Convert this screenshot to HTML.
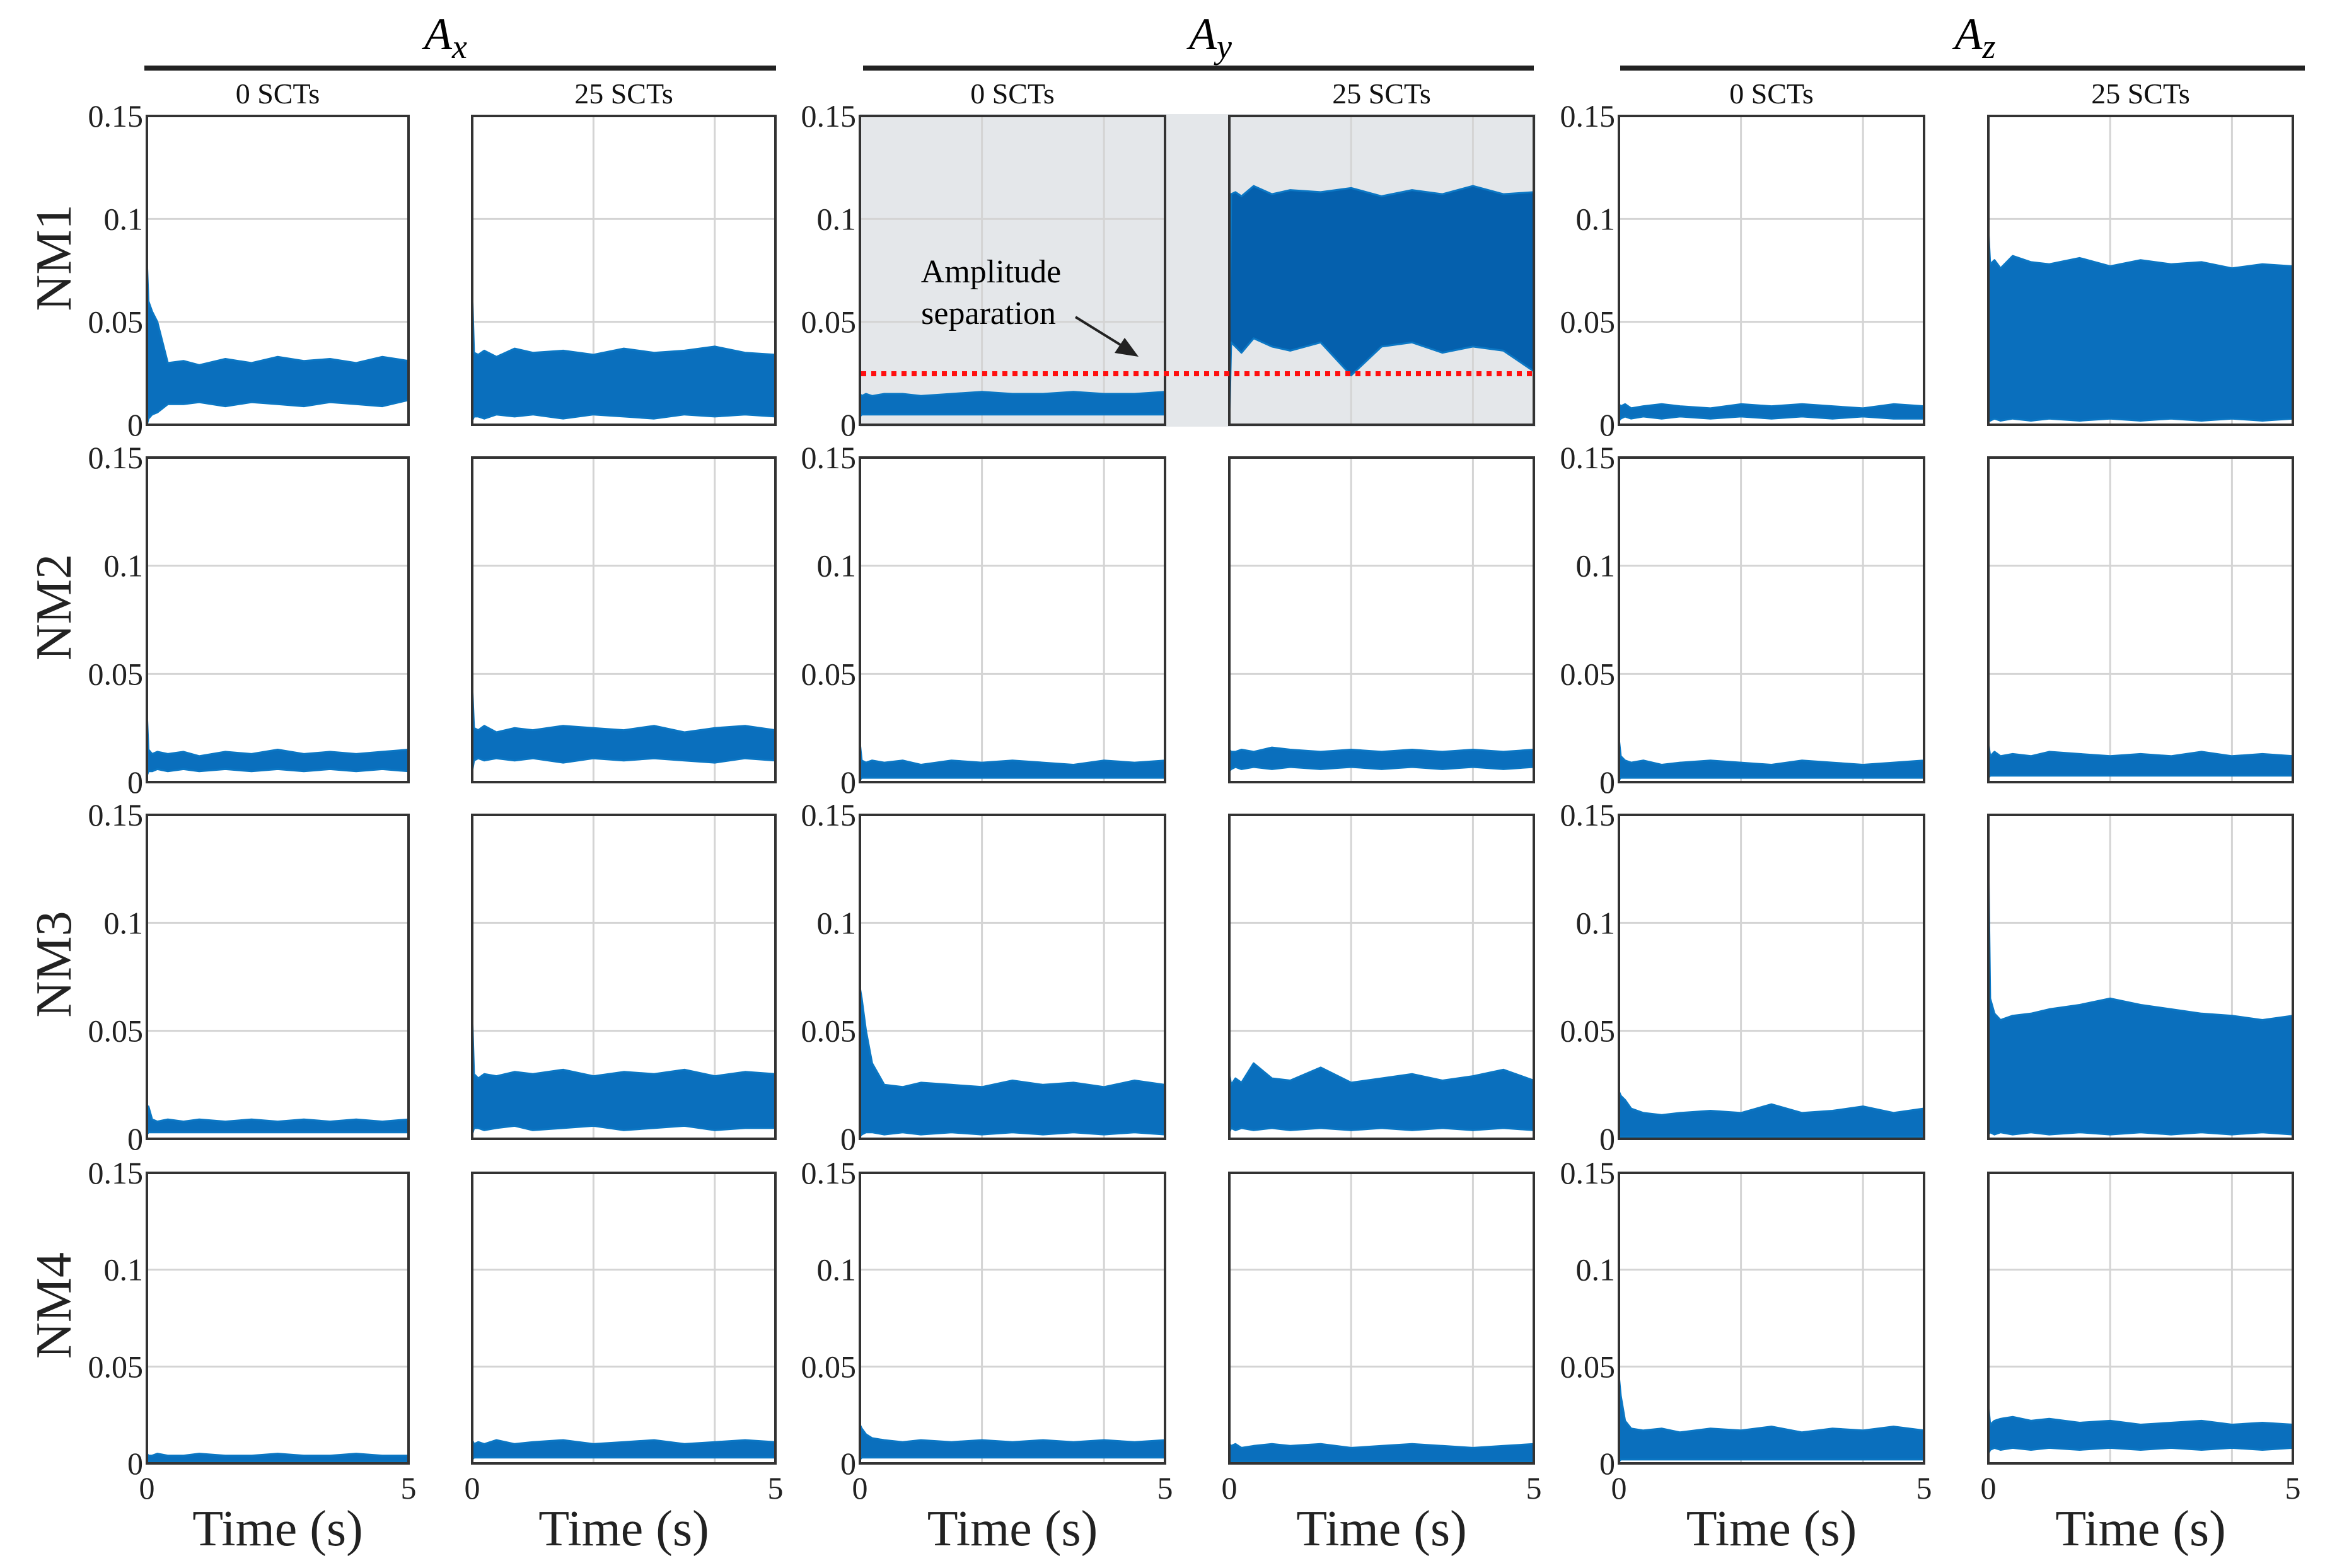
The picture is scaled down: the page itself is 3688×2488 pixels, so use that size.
<!DOCTYPE html>
<html><head><meta charset="utf-8"><style>
html,body{margin:0;padding:0;background:#fff;}
svg{display:block;font-family:"Liberation Serif",serif;}
</style></head><body>
<svg id="fig" width="3688" height="2488" viewBox="0 0 3688 2488" xmlns="http://www.w3.org/2000/svg">
<g id="layer-bg">
<rect x="0" y="0" width="3688" height="2488" fill="#fff"/>
<rect x="1364" y="181" width="1072" height="496" fill="#e4e7ea"/>
</g>
<g id="layer-panels"></g>
<g id="layer-anno">
<text x="707" y="78" font-size="72" font-style="italic" text-anchor="middle">A<tspan font-size="54" dy="14">x</tspan></text>
<rect x="229" y="104" width="1002" height="8" fill="#222"/>
<text x="1920" y="78" font-size="72" font-style="italic" text-anchor="middle">A<tspan font-size="54" dy="14">y</tspan></text>
<rect x="1369" y="104" width="1064" height="8" fill="#222"/>
<text x="3133" y="78" font-size="72" font-style="italic" text-anchor="middle">A<tspan font-size="54" dy="14">z</tspan></text>
<rect x="2570" y="104" width="1086" height="8" fill="#222"/>
<line x1="1366" y1="593" x2="2436" y2="593" stroke="#ff1010" stroke-width="8" stroke-dasharray="8 8"/>
<text x="1572" y="448" font-size="52" text-anchor="middle">Amplitude</text>
<text x="1568" y="514" font-size="52" text-anchor="middle">separation</text>
<line x1="1706" y1="503" x2="1790" y2="555" stroke="#222" stroke-width="4"/>
<polygon points="1806,566 1768,560 1784,536" fill="#222"/>
</g>
</svg>
<script>
// time sample points (s)
const times = [0,0.03,0.1,0.2,0.4,0.7,1,1.5,2,2.5,3,3.5,4,4.5,5];
const yTickLabels = ["0","0.05","0.1","0.15"];
const yTickValues = [0,50,100,150]; // in units of 1e-3
const rowLabels = ["NM1","NM2","NM3","NM4"];
const colLabels = ["0 SCTs","25 SCTs","0 SCTs","25 SCTs","0 SCTs","25 SCTs"];
// amplitude envelopes (units of 1e-3), upper and lower per panel [row][col]
const upperR1 = [
 [80,60,55,50,30,31,29,32,30,33,31,32,30,33,31],
 [65,35,34,36,33,37,35,36,34,37,35,36,38,35,34],
 [15,14,15,14,15,15,14,15,16,15,15,16,15,15,16],
 [20,112,113,111,116,112,114,113,115,111,114,112,116,112,113],
 [10,9,10,8,9,10,9,8,10,9,10,9,8,10,9],
 [95,78,80,76,82,79,78,81,77,80,78,79,76,78,77]];
const lowerR1 = [
 [0,3,5,6,10,10,11,9,11,10,9,11,10,9,12],
 [2,4,4,3,5,4,5,3,5,4,3,5,4,5,4],
 [4,5,5,5,5,5,5,5,5,5,5,5,5,5,5],
 [0,40,38,35,42,38,36,40,24,38,40,35,38,36,26],
 [2,3,4,3,4,3,4,3,4,3,4,3,4,3,3],
 [2,2,3,2,3,2,3,2,3,2,3,2,3,2,3]];
const upperR2 = [
 [32,15,13,14,13,14,12,14,13,15,13,14,13,14,15],
 [45,25,24,26,23,25,24,26,25,24,26,23,25,26,24],
 [18,10,9,10,9,10,8,10,9,10,9,8,10,9,10],
 [15,14,14,15,14,16,15,14,15,14,15,14,15,14,15],
 [20,12,10,9,10,8,9,10,9,8,10,9,8,9,10],
 [18,12,14,12,13,12,14,13,12,13,12,14,12,13,12]];
const lowerR2 = [
 [3,5,5,6,5,6,5,6,5,6,5,6,5,6,5],
 [5,10,11,10,11,10,11,9,11,10,11,10,9,11,10],
 [1,2,2,2,2,2,2,2,2,2,2,2,2,2,2],
 [5,6,7,6,7,6,7,6,7,6,7,6,7,6,7],
 [1,2,2,2,2,2,2,2,2,2,2,2,2,2,2],
 [2,3,3,3,3,3,3,3,3,3,3,3,3,3,3]];
const upperR3 = [
 [10,15,9,8,9,8,9,8,9,8,9,8,9,8,9],
 [58,30,28,30,29,31,30,32,29,31,30,32,29,31,30],
 [70,65,50,35,25,24,26,25,24,27,25,26,24,27,25],
 [30,25,28,26,35,28,27,33,26,28,30,27,29,32,27],
 [22,20,18,14,12,11,12,13,12,16,12,13,15,12,14],
 [130,65,58,55,57,58,60,62,65,62,60,58,57,55,57]];
const lowerR3 = [
 [2,3,3,3,3,3,3,3,3,3,3,3,3,3,3],
 [2,5,5,4,5,6,4,5,6,4,5,6,4,5,5],
 [1,2,3,3,2,3,2,3,2,3,2,3,2,3,2],
 [3,5,4,5,4,5,4,5,4,5,4,5,4,5,4],
 [1,1,1,1,1,1,1,1,1,1,1,1,1,1,1],
 [2,3,2,3,2,3,2,3,2,3,2,3,2,3,2]];
const upperR4 = [
 [5,4,4,5,4,4,5,4,4,5,4,4,5,4,4],
 [12,10,11,10,12,10,11,12,10,11,12,10,11,12,11],
 [20,18,15,13,12,11,12,11,12,11,12,11,12,11,12],
 [10,9,10,8,9,10,9,10,8,9,10,9,8,9,10],
 [45,35,22,18,17,18,16,18,17,19,16,18,17,19,17],
 [30,20,22,23,24,22,23,21,22,20,21,22,20,21,20]];
const lowerR4 = [
 [1,1,1,1,1,1,1,1,1,1,1,1,1,1,1],
 [2,3,3,3,3,3,3,3,3,3,3,3,3,3,3],
 [2,3,3,3,3,3,3,3,3,3,3,3,3,3,3],
 [1,1,1,1,1,1,1,1,1,1,1,1,1,1,1],
 [1,2,2,2,2,2,2,2,2,2,2,2,2,2,2],
 [5,7,8,7,8,7,8,7,8,7,8,7,8,7,8]];
const uppers = [upperR1,upperR2,upperR3,upperR4];
const lowers = [lowerR1,lowerR2,lowerR3,lowerR4];

// layout
const colX = [[233,648],[749,1230],[1364,1848],[1950,2433],[2568,3052],[3154,3637]];
const rowY = [[184,674],[726,1241],[1293,1807],[1861,2322]];
const NS = "http://www.w3.org/2000/svg";
const root = document.getElementById('layer-panels');
function mk(tag, attrs, parent){ const e=document.createElementNS(NS,tag); for(const k in attrs) e.setAttribute(k,attrs[k]); (parent||root).appendChild(e); return e; }

for(let r=0;r<4;r++){
  for(let c=0;c<6;c++){
    const [x0,x1]=colX[c], [y0,y1]=rowY[r];
    const xs = t => x0 + (t/5)*(x1-x0);
    const ys = v => y1 - (v/150)*(y1-y0);
    const g = mk('g',{});
    
    
    const gray = (r===0 && (c===2||c===3));
    const bg = mk('rect',{x:x0,y:y0,width:x1-x0,height:y1-y0,fill:gray?'#e4e7ea':'#fff'},g);
    
    
    // grid
    for(const v of [50,100]){
      const gl = mk('line',{x1:x0,x2:x1,y1:ys(v),y2:ys(v),stroke:'#d4d4d4','stroke-width':3},g);
      
      
    }
    if(c>0){ for(const t of [2,4]){
      const gl = mk('line',{x1:xs(t),x2:xs(t),y1:y0,y2:y1,stroke:'#d4d4d4','stroke-width':3},g);
      
      
    }}
    // signal band
    const up = uppers[r][c], lo = lowers[r][c];
    let pts=[];
    for(let i=0;i<times.length;i++) pts.push(xs(times[i]).toFixed(1)+','+ys(up[i]).toFixed(1));
    for(let i=times.length-1;i>=0;i--) pts.push(xs(times[i]).toFixed(1)+','+ys(lo[i]).toFixed(1));
    const band = mk('polygon',{points:pts.join(' '),fill:(r===0&&c===3)?'#0560ad':'#0a6fbd',stroke:'#0b77c4','stroke-width':3,'stroke-linejoin':'round'},g);
    
    
    // frame
    const fr = mk('rect',{x:x0,y:y0,width:x1-x0,height:y1-y0,fill:'none',stroke:'#333','stroke-width':4},g);
    
    
    // y tick labels
    if(c%2===0){
      for(let k=0;k<yTickValues.length;k++){
        const tl = mk('text',{x:x0-6,y:ys(yTickValues[k])+17,'font-size':50,'text-anchor':'end',fill:'#222'},g);
        tl.textContent = yTickLabels[k];
        
        
      }
    }
    // column subtitle
    if(r===0){
      const st = mk('text',{x:(x0+x1)/2,y:164,'font-size':46,'text-anchor':'middle',fill:'#111'},g);
      st.textContent = colLabels[c];
      
      
    }
    // x ticks + label
    if(r===3){
      const t0 = mk('text',{x:x0,y:2378,'font-size':50,'text-anchor':'middle',fill:'#222'},g);
      t0.textContent='0';
      
      
      const t5 = mk('text',{x:x1,y:2378,'font-size':50,'text-anchor':'middle',fill:'#222'},g);
      t5.textContent='5';
      
      
      const xl = mk('text',{x:(x0+x1)/2,y:2452,'font-size':80,'text-anchor':'middle',fill:'#222'},g);
      xl.textContent='Time (s)';
      
      
    }
  }
  const [y0,y1]=rowY[r];
  const cy=(y0+y1)/2 - 20;
  const rl = mk('text',{x:0,y:0,'font-size':80,'text-anchor':'middle',transform:'translate(112,'+cy+') rotate(-90)',fill:'#222'});
  rl.textContent = rowLabels[r];
  
  
}
</script>
</body></html>
